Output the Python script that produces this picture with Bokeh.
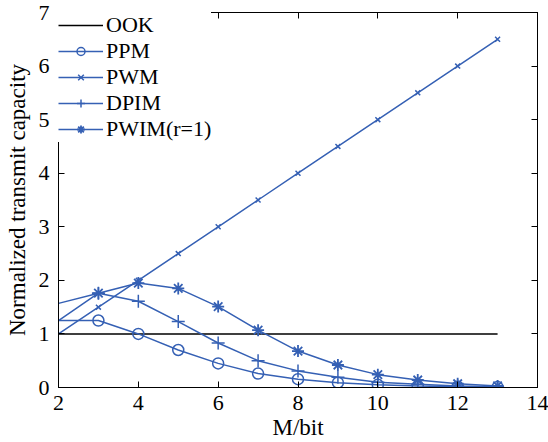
from bokeh.plotting import figure
from bokeh.models import LinearAxis, FixedTicker, Range1d, Legend, LegendItem
from bokeh.embed import file_html
from bokeh.resources import INLINE

M = [2, 3, 4, 5, 6, 7, 8, 9, 10, 11, 12, 13]
ook = [1, 1, 1, 1, 1, 1, 1, 1, 1, 1, 1, 1]
ppm = [1.25, 1.25, 1.0, 0.70, 0.45, 0.26, 0.155, 0.09, 0.05, 0.03, 0.015, 0.008]
pwm = [1.0, 1.5, 2.0, 2.5, 3.0, 3.5, 4.0, 4.5, 5.0, 5.5, 6.0, 6.5]
dpim = [1.25, 1.76, 1.61, 1.23, 0.83, 0.50, 0.31, 0.19, 0.10, 0.06, 0.03, 0.015]
pwim = [1.57, 1.76, 1.95, 1.85, 1.51, 1.07, 0.68, 0.42, 0.24, 0.14, 0.07, 0.03]

x_ticks = [2, 4, 6, 8, 10, 12, 14]
y_ticks = [0, 1, 2, 3, 4, 5, 6, 7]

FONT = "'Liberation Serif', 'Times New Roman', Times, serif"
BLUE = "#3560b4"

p = figure(width=548, height=442, output_backend="svg", toolbar_location=None,
           x_range=Range1d(2, 14), y_range=Range1d(0, 7),
           min_border_left=58, min_border_right=11, min_border_top=12, min_border_bottom=0)
p.background_fill_color = "white"
p.border_fill_color = "white"
p.outline_line_color = "black"
p.outline_line_width = 1
p.grid.visible = False

p.xaxis.ticker = FixedTicker(ticks=x_ticks)
p.yaxis.ticker = FixedTicker(ticks=y_ticks)
for ax in [p.xaxis[0], p.yaxis[0]]:
    ax.major_tick_in = 6
    ax.major_tick_out = 0
    ax.minor_tick_line_color = None
    ax.axis_line_color = "black"
    ax.major_tick_line_color = "black"
    ax.major_label_text_font = FONT
    ax.major_label_text_font_size = "22px"
    ax.major_label_text_color = "black"
    ax.axis_label_text_font = FONT
    ax.axis_label_text_font_size = "23px"
    ax.axis_label_text_font_style = "normal"
    ax.axis_label_text_color = "black"
p.xaxis.axis_label = "M/bit"
p.yaxis.axis_label = "Normalized transmit capacity"
p.xaxis.major_label_standoff = 8
p.xaxis.axis_label_standoff = 2
p.yaxis.major_label_standoff = 9
p.yaxis.axis_label_standoff = 6

top = LinearAxis(ticker=FixedTicker(ticks=x_ticks), major_tick_in=6, major_tick_out=0,
                 minor_tick_line_color=None, major_label_text_font_size="1px",
                 major_label_overrides={t: "" for t in x_ticks},
                 major_label_standoff=0, axis_line_color="black")
right = LinearAxis(ticker=FixedTicker(ticks=y_ticks), major_tick_in=6, major_tick_out=0,
                   minor_tick_line_color=None, major_label_text_font_size="1px",
                   major_label_overrides={t: "" for t in y_ticks},
                   major_label_standoff=0, axis_line_color="black")
p.add_layout(top, "above")
p.add_layout(right, "right")

lw = 1.5
r_ook = p.line(M, ook, line_color="black", line_width=lw)

r_ppm_l = p.line(M, ppm, line_color=BLUE, line_width=lw)
r_ppm_m = p.scatter(M[1:], ppm[1:], marker="circle", size=11, fill_color=None,
                    line_color=BLUE, line_width=1.5)
r_pwm_l = p.line(M, pwm, line_color=BLUE, line_width=lw)
r_pwm_m = p.scatter(M[1:], pwm[1:], marker="x", size=7, line_color=BLUE, line_width=1.5)
r_dpim_l = p.line(M, dpim, line_color=BLUE, line_width=lw)
r_dpim_m = p.scatter(M[1:], dpim[1:], marker="cross", size=13, line_color=BLUE, line_width=1.5)
r_pwim_l = p.line(M, pwim, line_color=BLUE, line_width=lw)
r_pwim_m = p.scatter(M[1:], pwim[1:], marker="asterisk", size=12, line_color=BLUE, line_width=1.8)

legend = Legend(items=[
    LegendItem(label="OOK", renderers=[r_ook]),
    LegendItem(label="PPM", renderers=[r_ppm_l, r_ppm_m]),
    LegendItem(label="PWM", renderers=[r_pwm_l, r_pwm_m]),
    LegendItem(label="DPIM", renderers=[r_dpim_l, r_dpim_m]),
    LegendItem(label="PWIM(r=1)", renderers=[r_pwim_l, r_pwim_m]),
], location="top_left")
legend.margin = 0
legend.padding = 9
legend.spacing = 0
legend.label_height = 20
legend.glyph_height = 20
legend.glyph_width = 45
legend.label_standoff = 3
legend.label_text_font = FONT
legend.label_text_font_size = "22px"
legend.label_text_color = "black"
legend.border_line_color = None
legend.background_fill_color = "white"
legend.background_fill_alpha = 1.0
p.add_layout(legend, "center")

open("out.html", "w").write(file_html(p, INLINE))
